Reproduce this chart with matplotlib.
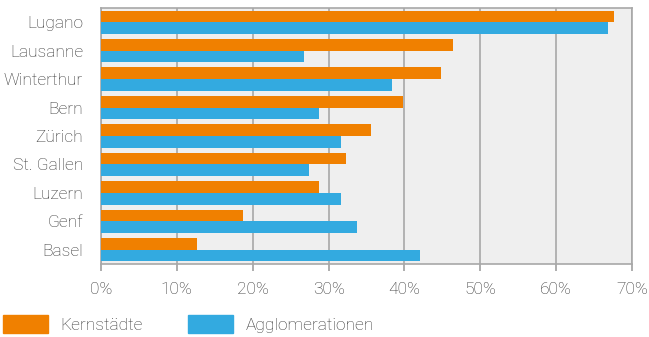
import matplotlib
matplotlib.use("Agg")
import matplotlib.pyplot as plt
import numpy as np
from matplotlib.patches import Patch

cities = ["Lugano", "Lausanne", "Winterthur", "Bern", "Zürich", "St. Gallen", "Luzern", "Genf", "Basel"]
kernstaedte = [67.6, 46.4, 44.8, 39.8, 35.6, 32.3, 28.8, 18.7, 12.6]
agglomerationen = [66.9, 26.8, 38.4, 28.8, 31.7, 27.4, 31.7, 33.7, 42.0]
xticks = [0, 10, 20, 30, 40, 50, 60, 70]

orange = "#F08000"
blue = "#33AAE0"
text_col = "#333333"

plt.rcParams['font.family'] = ['Roboto', 'DejaVu Sans']

fig = plt.figure(figsize=(6.49, 3.37), dpi=100)
ax = fig.add_axes([101/649, 1-264/337, (632-101)/649, (264-8)/337])
ax.set_facecolor("#EFEFEF")

y = np.arange(len(cities))
h = 0.41
ax.barh(y - h/2, kernstaedte, height=h, color=orange, zorder=3)
ax.barh(y + h/2, agglomerationen, height=h, color=blue, zorder=3)

fs = 12.5
ax.set_ylim(len(cities) - 0.5, -0.5)
ax.set_xlim(0, 70)
ax.set_xticks(xticks)
ax.set_xticklabels([f"{v}%" for v in xticks], fontsize=fs, color=text_col, fontweight='light')
ax.set_yticks(y)
ax.set_yticklabels(cities, fontsize=fs, color=text_col, fontweight='light')
ax.tick_params(axis='y', length=0, pad=13)
ax.tick_params(axis='x', length=5, color="#A0A0A0", width=1.2, pad=8)
ax.grid(axis='x', color="#A8A8A8", linewidth=1.2, zorder=1)
for s in ax.spines.values():
    s.set_color("#A8A8A8")
    s.set_linewidth(1.2)

em = fs * 100 / 72
handles = [Patch(color=orange, label="Kernstädte"), Patch(color=blue, label="Agglomerationen")]
leg = fig.legend(handles=handles, loc="lower left", bbox_to_anchor=(3/649, 4/337), ncol=2,
                 frameon=False, handlelength=45/em, handleheight=20/em, handletextpad=12/em,
                 columnspacing=46/em, borderaxespad=0, borderpad=0,
                 prop={'size': fs, 'weight': 'light'})
for t in leg.get_texts():
    t.set_color(text_col)

fig.savefig("out.png", dpi=100)
